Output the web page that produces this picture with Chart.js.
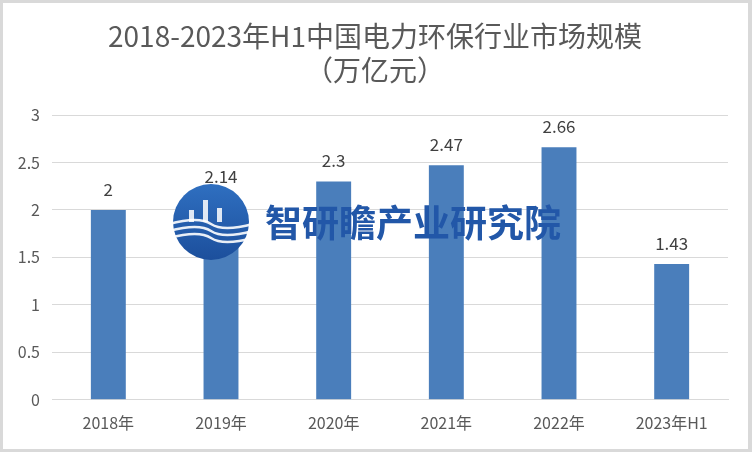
<!DOCTYPE html>
<html>
<head>
<meta charset="utf-8">
<script src="https://cdn.jsdelivr.net/npm/chart.js@4"></script>
<style>
  html, body { margin: 0; padding: 0; background: #fff; }
  #wrap { width: 752px; height: 452px; }
</style>
</head>
<body>
<div id="wrap"><canvas id="marketChart" width="752" height="452"></canvas></div>
<script>
const categories = ["2018年", "2019年", "2020年", "2021年", "2022年", "2023年H1"];
const marketValues = [2, 2.14, 2.3, 2.47, 2.66, 1.43];
const yTicks = [0, 0.5, 1, 1.5, 2, 2.5, 3];
const titleLines = ["2018-2023年H1中国电力环保行业市场规模", "（万亿元）"];

const FONT = "'Noto Sans CJK SC', 'Noto Sans', sans-serif";
const TEXT_COLOR = "#595959";
const BAR_COLOR = "#4a7ebb";

// gray frame around the white card
const framePlugin = {
  id: "frame",
  beforeDraw(chart) {
    const { ctx, width, height } = chart;
    ctx.save();
    ctx.fillStyle = "#d9d9d9";
    ctx.fillRect(0, 0, width, height);
    ctx.fillStyle = "#ffffff";
    ctx.fillRect(3, 3, width - 7, height - 6);
    ctx.restore();
  },
};

// two-line title centred on the whole card
const titlePlugin = {
  id: "cardTitle",
  afterDraw(chart) {
    const { ctx } = chart;
    ctx.save();
    ctx.fillStyle = TEXT_COLOR;
    ctx.textAlign = "center";
    ctx.textBaseline = "middle";
    ctx.font = "28px " + FONT;
    ctx.fillText(titleLines[0], 375, 36);
    ctx.fillText(titleLines[1], 375, 70);
    ctx.restore();
  },
};

// value labels above the bars
const valueLabelPlugin = {
  id: "valueLabels",
  afterDatasetsDraw(chart) {
    const { ctx } = chart;
    const meta = chart.getDatasetMeta(0);
    ctx.save();
    ctx.font = "17px " + FONT;
    ctx.fillStyle = "#404040";
    ctx.textAlign = "center";
    ctx.textBaseline = "bottom";
    meta.data.forEach((bar, i) => {
      ctx.fillText(String(marketValues[i]), bar.x, bar.y - 12);
    });
    ctx.restore();
  },
};

// watermark logo + name
const watermarkPlugin = {
  id: "watermark",
  afterDraw(chart) {
    const { ctx } = chart;
    const cx = 211, cy = 222, r = 38;
    ctx.save();
    const grad = ctx.createLinearGradient(cx, cy - r, cx, cy + r);
    grad.addColorStop(0, "#2f6fc0");
    grad.addColorStop(1, "#1c4f9c");
    ctx.fillStyle = grad;
    ctx.beginPath();
    ctx.arc(cx, cy, r, 0, Math.PI * 2);
    ctx.fill();
    ctx.strokeStyle = "rgba(255,255,255,0.9)";
    ctx.lineWidth = 2.5;
    for (let k = 0; k < 3; k++) {
      const yy = cy + 2 + k * 7;
      ctx.beginPath();
      ctx.moveTo(cx - r - 4, yy);
      ctx.quadraticCurveTo(cx - 12, yy - 8, cx, yy);
      ctx.quadraticCurveTo(cx + 12, yy + 8, cx + r + 4, yy);
      ctx.stroke();
    }
    ctx.fillStyle = "rgba(255,255,255,0.85)";
    ctx.fillRect(cx - 22, cy - 12, 5, 12);
    ctx.fillRect(cx - 8, cy - 22, 5, 22);
    ctx.fillRect(cx + 6, cy - 14, 5, 14);
    ctx.font = "bold 37px " + FONT;
    ctx.fillStyle = "#2257a8";
    ctx.textAlign = "left";
    ctx.textBaseline = "middle";
    ctx.fillText("智研瞻产业研究院", 265, 223);
    ctx.restore();
  },
};

new Chart(document.getElementById("marketChart"), {
  type: "bar",
  data: {
    labels: categories,
    datasets: [
      {
        data: marketValues,
        backgroundColor: BAR_COLOR,
        categoryPercentage: 1,
        barPercentage: 0.31,
      },
    ],
  },
  options: {
    responsive: false,
    animation: false,
    layout: { padding: { top: 115, right: 24, bottom: 5, left: 0 } },
    plugins: {
      legend: { display: false },
      tooltip: { enabled: false },
      title: { display: false },
    },
    scales: {
      x: {
        grid: { display: false, drawTicks: false },
        border: { color: "#d9d9d9", width: 1 },
        ticks: { color: TEXT_COLOR, font: { family: FONT, size: 16 }, padding: 14 },
      },
      y: {
        min: 0,
        max: 3,
        afterBuildTicks(scale) {
          scale.ticks = yTicks.map((v) => ({ value: v }));
        },
        afterFit(scale) {
          scale.width = 52;
        },
        grid: { color: "#d9d9d9", lineWidth: 1, drawTicks: false },
        border: { display: false },
        ticks: {
          color: TEXT_COLOR,
          font: { family: FONT, size: 16 },
          padding: 12,
          callback: (value) => String(value),
        },
      },
    },
  },
  plugins: [framePlugin, titlePlugin, valueLabelPlugin, watermarkPlugin],
});
</script>
</body>
</html>
